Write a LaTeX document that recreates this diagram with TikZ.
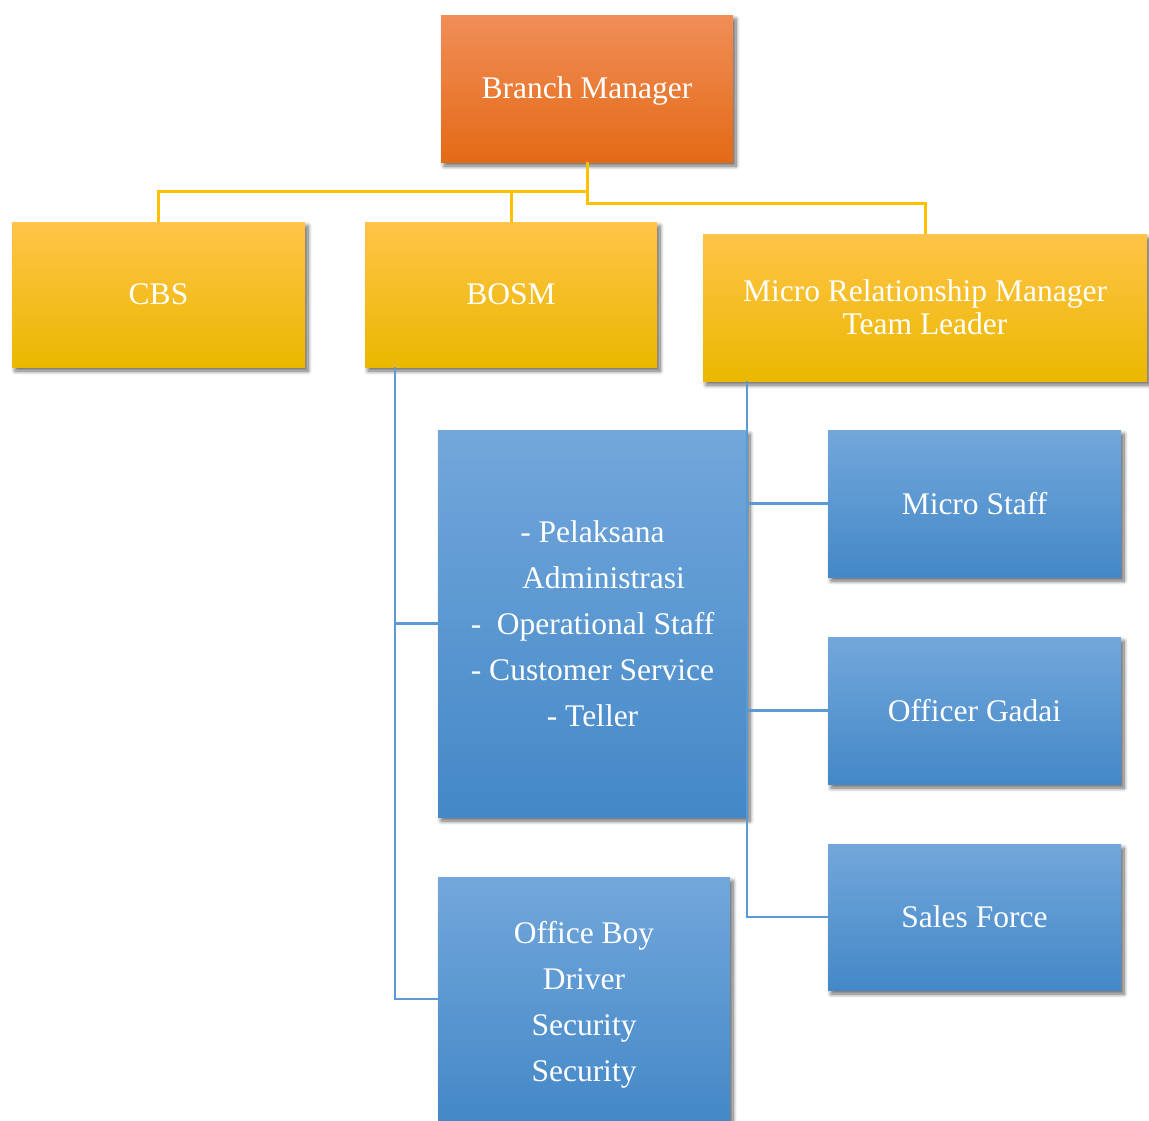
\documentclass[tikz,border=0pt]{standalone}
\usepackage{fontspec}
\setmainfont{Liberation Serif}
\usetikzlibrary{shadows.blur}
\definecolor{orT}{RGB}{240,142,88}
\definecolor{orM}{RGB}{240,124,42}
\definecolor{orB}{RGB}{228,106,22}
\definecolor{yeT}{RGB}{255,196,72}
\definecolor{yeM}{RGB}{255,199,8}
\definecolor{yeB}{RGB}{234,184,0}
\definecolor{blT}{RGB}{114,167,219}
\definecolor{blM}{RGB}{86,152,216}
\definecolor{blB}{RGB}{68,136,199}
\definecolor{yline}{RGB}{255,192,0}
\definecolor{bline}{RGB}{91,155,213}
\tikzset{
  box/.style={rectangle, inner sep=0pt, text=white, align=center,
    font=\fontsize{31.5}{46}\selectfont,
    blur shadow={shadow xshift=3pt, shadow yshift=-4pt, shadow blur radius=4pt, shadow blur steps=8, shadow opacity=60}},
  orbox/.style={box, top color=orT, middle color=orM, bottom color=orB},
  yebox/.style={box, top color=yeT, middle color=yeM, bottom color=yeB},
  blbox/.style={box, top color=blT, middle color=blM, bottom color=blB},
  ycon/.style={draw=yline, line width=3pt},
  bcon/.style={draw=bline, line width=2.5pt},
}
\begin{document}
\begin{tikzpicture}[x=1pt,y=-1pt]
\useasboundingbox (0,0) rectangle (1149,1120);
% nodes
\node[orbox, minimum width=292pt, minimum height=147pt] (bm) at (587,88.5) {\raisebox{-2pt}[\height][\depth]{Branch Manager}};
\node[yebox, minimum width=293pt, minimum height=145pt] (cbs) at (158.5,294.5) {CBS};
\node[yebox, minimum width=292pt, minimum height=145pt] (bosm) at (511,294.5) {BOSM};
\node[yebox, minimum width=444pt, minimum height=147pt, font=\fontsize{31.5}{33}\selectfont] (mrm) at (925,307.5) {Micro Relationship Manager\\Team Leader};
\node[blbox, minimum width=309pt, minimum height=387pt] (big) at (592.5,623.5) {- Pelaksana\\\hspace*{22pt}Administrasi\\-\ \ Operational Staff\\- Customer Service\\- Teller};
\node[blbox, minimum width=292pt, minimum height=244pt] (office) at (584,999) {\raisebox{-4pt}[\height][\depth]{\begin{tabular}{@{}c@{}}Office Boy\\Driver\\Security\\Security\end{tabular}}};
\node[blbox, minimum width=293pt, minimum height=147pt] (ms) at (974.5,503.5) {Micro Staff};
\node[blbox, minimum width=293pt, minimum height=147pt] (og) at (974.5,710.5) {Officer Gadai};
\node[blbox, minimum width=293pt, minimum height=146pt] (sf) at (974.5,917) {Sales Force};
% connectors
\coordinate (j1) at (587,191);
\coordinate (j2) at (587,203);
\draw[ycon] (bm.south) -- (j2) -| (mrm.north);
\draw[ycon] (j1) -| (cbs.north);
\draw[ycon] (j1) -| (bosm.north);
\coordinate (b0) at (395,367);
\draw[bcon] (b0) |- (big.west);
\draw[bcon] (b0) |- (office.west);
\coordinate (m0) at (747,381);
\draw[bcon] (m0) |- (sf.west);
\draw[bcon] (m0 |- ms.west) -- (ms.west);
\draw[bcon] (m0 |- og.west) -- (og.west);
\end{tikzpicture}
\end{document}
